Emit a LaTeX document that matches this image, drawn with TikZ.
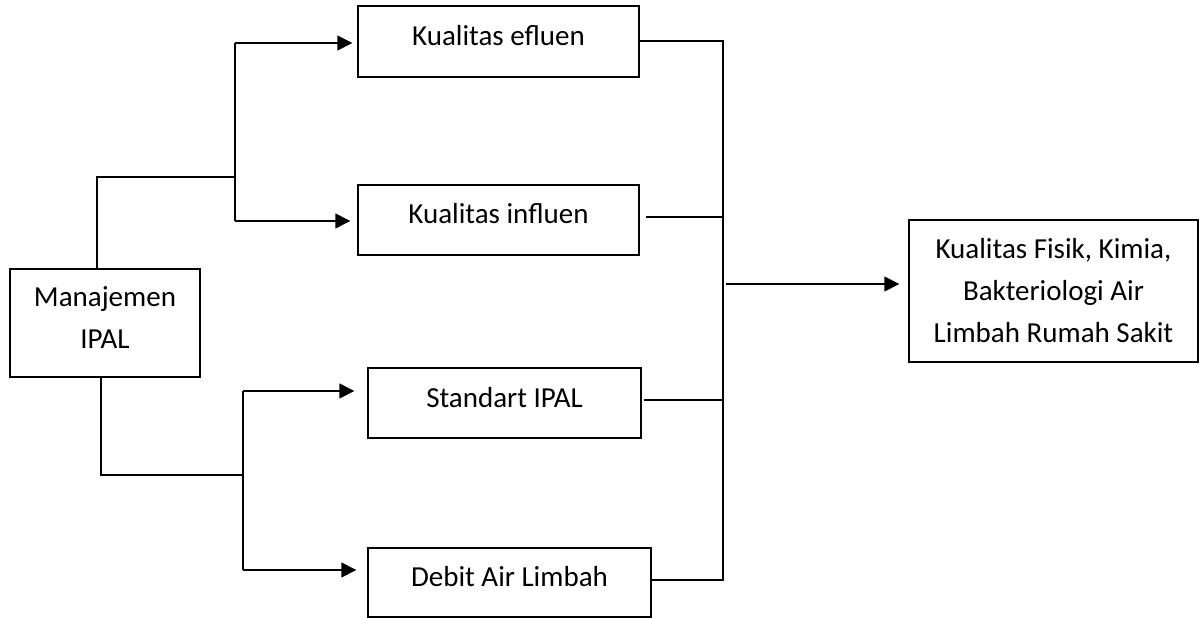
\documentclass[tikz,border=0pt]{standalone}
\usepackage{fontspec}
\setmainfont{Carlito}
\usetikzlibrary{arrows.meta}
\begin{document}
\begin{tikzpicture}[x=1pt,y=-1pt,
  box/.style={draw,line width=1.4pt,inner sep=0pt},
  txt/.style={inner sep=0pt,align=center,font=\fontsize{29}{42}\selectfont},
  conn/.style={line width=1.4pt},
  arr/.style={conn,-{Triangle[length=15pt,width=15pt]}}]
\useasboundingbox (0,0) rectangle (1200,618);
% boxes
\node[box,minimum width=190pt,minimum height=108pt] (man) at (105,323) {};
\node[box,minimum width=281pt,minimum height=71pt] (ef) at (498.5,41.5) {};
\node[box,minimum width=281pt,minimum height=70pt] (in) at (498.5,220) {};
\node[box,minimum width=273pt,minimum height=70pt] (st) at (504.5,403) {};
\node[box,minimum width=283pt,minimum height=69pt] (db) at (509.5,582.5) {};
\node[box,minimum width=289pt,minimum height=142pt] (res) at (1053.5,291) {};
% texts
\node[txt,yshift=5pt] (manT) at (man.center) {Manajemen\\IPAL};
\node[txt,yshift=5.5pt] (efT) at (ef.center) {Kualitas efluen};
\node[txt,yshift=6pt] (inT) at (in.center) {Kualitas influen};
\node[txt,yshift=5.5pt] (stT) at (st.center) {Standart IPAL};
\node[txt,yshift=5.5pt] (dbT) at (db.center) {Debit Air Limbah};
\node[txt] (resT) at (res.center) {Kualitas Fisik, Kimia,\\Bakteriologi Air\\Limbah Rumah Sakit};
% upper branch
\coordinate (u1) at (97,177);
\coordinate (u2) at (235,177);
\coordinate (ut) at (235,43);
\coordinate (ub) at (235,221);
\draw[conn] (man.north -| u1) -- (u1) -- (u2);
\draw[conn] (ut) -- (ub);
\draw[arr,shorten >=5pt] (ut) -- (ut -| ef.west);
\draw[arr,shorten >=7pt] (ub) -- (ub -| in.west);
% lower branch
\coordinate (l1) at (101,475);
\coordinate (l2) at (243,475);
\coordinate (lt) at (243,391);
\coordinate (lb) at (243,570);
\draw[conn] (man.south -| l1) -- (l1) -- (l2);
\draw[conn] (lt) -- (lb);
\draw[arr,shorten >=13pt] (lt) -- (lt -| st.west);
\draw[arr,shorten >=11pt] (lb) -- (lb -| db.west);
% right collector
\coordinate (rt) at (723,41);
\coordinate (rb) at (723,580);
\coordinate (ra) at (723,284);
\draw[conn] (ef.east |- rt) -- (rt) -- (rb) -- (db.east |- rb);
\draw[conn,shorten <=6pt] (in.east |- 0,217) -- (rt |- 0,217);
\draw[conn,shorten <=2pt] (st.east |- 0,400) -- (rt |- 0,400);
\draw[arr,shorten <=3pt,shorten >=9pt] (ra) -- (ra -| res.west);
\end{tikzpicture}
\end{document}
